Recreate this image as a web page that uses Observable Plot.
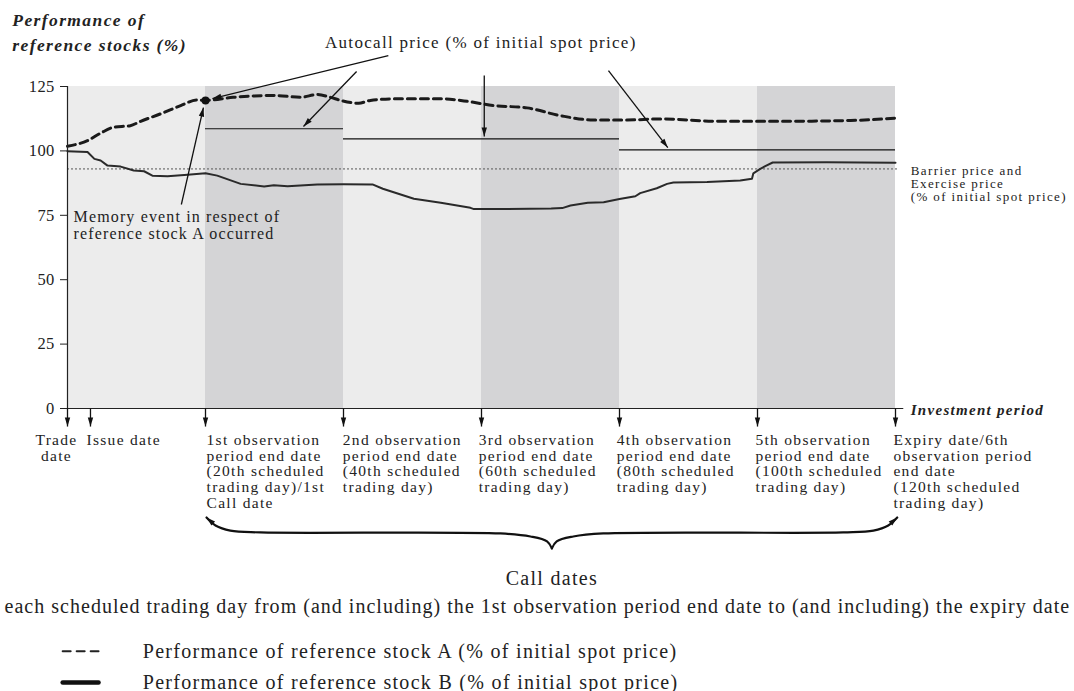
<!DOCTYPE html>
<html><head><meta charset="utf-8">
<script src="https://cdn.jsdelivr.net/npm/d3@7"></script>
<script src="https://cdn.jsdelivr.net/npm/@observablehq/plot@0.6"></script>
<style>
body{margin:0;background:#fff;}
svg{font-family:"Liberation Serif",serif;}
svg text{letter-spacing:0.3px;}
svg text[aria-label="title"]{letter-spacing:1.4px;}
svg text[aria-label="autocall-label"]{letter-spacing:1.3px;}
svg text[aria-label="memory-label"]{letter-spacing:1.15px;}
svg text[aria-label="barrier-label"]{letter-spacing:1.4px;}
svg text[aria-label="period-label"]{letter-spacing:1.3px;}
svg text[aria-label="date-labels"]{letter-spacing:1.3px;}
svg text[aria-label="bottom-text"]{letter-spacing:1.3px;}
svg text[aria-label="note-text"]{letter-spacing:1.02px;}
</style>
</head><body><div id="chart"></div>
<script>
// ---- data (x = scheduled trading day, y = % of initial spot price) ----
const periodStarts = [20, 60, 100];
const periodEnds = [40, 80, 120];
const yTicks = [0, 25, 50, 75, 100, 125];

const stockADays = [0,2.9,4.8,6.7,9.1,10.6,13.5,16.4,18.8,20,24,30,33.8,36.2,38.1,39.6,42.2,43.9,47.3,54.5,57,61.8,66.6,71.4,76.2,81.1,85.9,94.6,103.9,113.5,120];
const stockAValues = [101.8,104,106.9,109.2,109.8,111.5,114.4,117.6,119.8,119.6,120.8,121.5,120.8,121.9,120.8,119.6,118.5,119.6,120.2,120.2,119.6,117.6,116.7,113.7,112,112,112.4,111.5,111.5,111.8,112.7];

const stockBDays = [0,2.9,3.9,4.8,5.8,7.7,9.6,11.1,12.3,14.5,17.4,20,21.7,25.1,28.5,29.9,31.9,36.2,40,44.2,45.7,50.2,54.1,58.4,58.9,62,70.1,71.7,72.9,75.4,77.7,80,82.3,83,85.4,86.9,87.8,92.7,97.5,99.2,99.4,100.4,101.2,102.2,110,120];
const stockBValues = [99.9,99.6,96.9,96.3,94.3,93.9,92.4,92.1,90.4,90.2,90.7,91.3,90.4,87.2,86.2,86.7,86.3,87,87.1,87,85.3,81.4,79.9,77.9,77.4,77.4,77.6,77.8,78.8,79.9,80.1,81.3,82.4,83.6,85.5,87.2,87.7,87.9,88.5,89.2,91.3,93,94.2,95.5,95.6,95.4];

const autocallStart = [20, 40, 80];
const autocallEnd = [40, 80, 120];
const autocallLevel = [108.6, 104.7, 100.4];
const barrierLevel = 93;
const memoryDay = 20, memoryValue = 119.6;

const dateDays = [0, 3.33, 20, 40, 60, 80, 100, 120];
const dateLabelDays = [2.75, 20.15, 39.9, 59.6, 79.6, 99.7, 119.7];
const dateLabels = [
  "Issue date",
  "1st observation\nperiod end date\n(20th scheduled\ntrading day)/1st\nCall date",
  "2nd observation\nperiod end date\n(40th scheduled\ntrading day)",
  "3rd observation\nperiod end date\n(60th scheduled\ntrading day)",
  "4th observation\nperiod end date\n(80th scheduled\ntrading day)",
  "5th observation\nperiod end date\n(100th scheduled\ntrading day)",
  "Expiry date/6th\nobservation period\nend date\n(120th scheduled\ntrading day)"
];
const tradeDateLabel = "Trade\ndate";

const titleLines = ["Performance of", "reference stocks (%)"];
const autocallLabel = "Autocall price (% of initial spot price)";
const memoryLines = ["Memory event in respect of", "reference stock A occurred"];
const barrierLines = ["Barrier price and", "Exercise price", "(% of initial spot price)"];
const periodLabel = "Investment period";
const braceLabel = "Call dates";
const braceNote = "each scheduled trading day from (and including) the 1st observation period end date to (and including) the expiry date";
const legendLabels = ["Performance of reference stock A (% of initial spot price)", "Performance of reference stock B (% of initial spot price)"];

// annotation arrows (from -> to, in data units)
const arrowFromX = [46.5, 41.9, 60.4, 78.4, 16.5];
const arrowFromY = [137.0, 130.8, 129.3, 131.2, 79.2];
const arrowToX = [21.0, 34.2, 60.4, 87.0, 19.7];
const arrowToY = [120.3, 109.5, 105.6, 101.3, 116.8];

// curly brace (call dates), left half; right half mirrored about braceMid
const braceMid = 70.2;
const braceDays = [20.15, 21.45, 23.6, 27.97, 62.75, 67.1, 69.5, 70.2];
const braceValues = [-42.3, -45.4, -47.4, -48.1, -48.5, -49.7, -51.6, -54.3];

const W = 1074, H = 691, ML = 67, MR = 179, MT = 86, MB = 283;
const kx = (W - ML - MR) / 120, ky = (H - MT - MB) / 125;
const angle = (x1, y1, x2, y2) => Math.atan2((x2 - x1) * kx, (y2 - y1) * ky) * 180 / Math.PI;

const head = {draw(ctx) { ctx.moveTo(0, 0); ctx.lineTo(-2.7, 9); ctx.lineTo(2.7, 9); ctx.closePath(); }};
const tag = name => () => name;

const A = stockADays.map((d, i) => ({x: d, y: stockAValues[i]}));
const B = stockBDays.map((d, i) => ({x: d, y: stockBValues[i]}));
const bands = periodStarts.map((s, i) => ({x1: s, x2: periodEnds[i]}));
const autocall = autocallStart.map((s, i) => ({x1: s, x2: autocallEnd[i], y: autocallLevel[i]}));
const arrows = arrowFromX.map((x, i) => ({x1: x, y1: arrowFromY[i], x2: arrowToX[i], y2: arrowToY[i], r: angle(x, arrowFromY[i], arrowToX[i], arrowToY[i])}));
const dateArrowTip = -7;
const dateArrows = dateDays.map(d => ({x: d, y1: 0, y2: dateArrowTip, r: 180}));
const brace = [
  ...braceDays.map((d, i) => ({x: d, y: braceValues[i], s: "L"})),
  ...braceDays.map((d, i) => ({x: 2 * braceMid - d, y: braceValues[i], s: "R"}))
];
const braceHeads = [
  {x: braceDays[0], y: braceValues[0], r: angle(braceDays[1], braceValues[1], braceDays[0], braceValues[0])},
  {x: 2 * braceMid - braceDays[0], y: braceValues[0], r: angle(2 * braceMid - braceDays[1], braceValues[1], 2 * braceMid - braceDays[0], braceValues[0])}
];
const dateLabelData = dateLabels.map((t, i) => ({x: dateLabelDays[i], t}));

const chart = Plot.plot({
  width: W, height: H,
  marginLeft: ML, marginRight: MR, marginTop: MT, marginBottom: MB,
  style: {fontFamily: "'Liberation Serif', serif", fontSize: "16.5px", color: "#222", background: "#fff", overflow: "visible"},
  x: {domain: [0, 120], axis: null},
  y: {domain: [0, 125], ticks: yTicks, tickSize: 7, tickPadding: 6, label: null},
  marks: [
    Plot.rect([{}], {x1: 0, x2: 120, y1: 0, y2: 125, fill: "#ececec"}),
    Plot.rect(bands, {x1: "x1", x2: "x2", y1: 0, y2: 125, fill: "#d4d4d6"}),
    Plot.ruleY([barrierLevel], {x1: 0, x2: 120.5, stroke: "#555", strokeWidth: 1, strokeDasharray: "2,2"}),
    Plot.ruleY(autocall, {x1: "x1", x2: "x2", y: "y", stroke: "#111", strokeWidth: 1.2}),
    Plot.line(B, {x: "x", y: "y", stroke: "#2a2a2a", strokeWidth: 2}),
    Plot.line(A, {x: "x", y: "y", stroke: "#1a1a1a", strokeWidth: 3, strokeDasharray: "8,5", curve: "monotone-x"}),
    Plot.dot([{x: memoryDay, y: memoryValue}], {x: "x", y: "y", r: 4, fill: "#111"}),
    Plot.ruleX([0], {y1: 0, y2: 125, stroke: "#222", strokeWidth: 1.2}),
    Plot.ruleY([0], {x1: 0, x2: 121.2, stroke: "#222", strokeWidth: 1.2}),
    // arrows
    Plot.link(arrows, {x1: "x1", y1: "y1", x2: "x2", y2: "y2", stroke: "#111", strokeWidth: 1.3}),
    Plot.dot(arrows, {x: "x2", y: "y2", rotate: "r", symbol: head, fill: "#111", stroke: "none"}),
    Plot.link(dateArrows, {x1: "x", x2: "x", y1: "y1", y2: "y2", stroke: "#111", strokeWidth: 1.3}),
    Plot.dot(dateArrows, {x: "x", y: "y2", rotate: "r", symbol: head, fill: "#111", stroke: "none"}),
    // brace
    Plot.line(brace, {x: "x", y: "y", z: "s", curve: "catmull-rom", stroke: "#111", strokeWidth: 2.2}),
    Plot.dot(braceHeads, {x: "x", y: "y", rotate: "r", symbol: head, fill: "#111", stroke: "none"}),
    // texts
    Plot.text(titleLines, {x: -8, y: (d, i) => [148.4, 138.7][i], text: d => d, textAnchor: "start", lineAnchor: "bottom", fontWeight: "bold", fontStyle: "italic", fontSize: 17.5, ariaLabel: tag("title")}),
    Plot.text([autocallLabel], {x: 59.9, y: 139.8, text: d => d, textAnchor: "middle", lineAnchor: "bottom", fontSize: 17, ariaLabel: tag("autocall-label")}),
    Plot.text(memoryLines, {x: 0.87, y: (d, i) => [72.3, 65.9][i], text: d => d, textAnchor: "start", lineAnchor: "bottom", fontSize: 16, ariaLabel: tag("memory-label")}),
    Plot.text(barrierLines, {x: 122.2, y: (d, i) => [90.8, 85.7, 80.6][i], text: d => d, textAnchor: "start", lineAnchor: "bottom", fontSize: 13, ariaLabel: tag("barrier-label")}),
    Plot.text([periodLabel], {x: 122.2, y: -2.7, text: d => d, textAnchor: "start", lineAnchor: "bottom", fontWeight: "bold", fontStyle: "italic", fontSize: 15, ariaLabel: tag("period-label")}),
    Plot.text(dateLabelData, {x: "x", y: -9.8, text: "t", textAnchor: "start", lineAnchor: "top", lineHeight: 1.013, fontSize: 15.5, ariaLabel: tag("date-labels")}),
    Plot.text([tradeDateLabel], {x: -1.6, y: -9.8, text: d => d, textAnchor: "middle", lineAnchor: "top", lineHeight: 1.013, fontSize: 15.5, ariaLabel: tag("date-labels")}),
    Plot.text([braceLabel], {x: braceMid, y: -68.7, text: d => d, textAnchor: "middle", lineAnchor: "bottom", fontSize: 20, ariaLabel: tag("bottom-text")}),
    Plot.text([braceNote], {x: 68.1, y: -79.2, text: d => d, textAnchor: "middle", lineAnchor: "bottom", fontSize: 20, ariaLabel: tag("note-text")}),
    // legend
    Plot.line([{x: -0.7, y: -94.2}, {x: 4.5, y: -94.2}], {x: "x", y: "y", stroke: "#222", strokeWidth: 2, strokeDasharray: "8,6"}),
    Plot.line([{x: -0.7, y: -106.4}, {x: 4.5, y: -106.4}], {x: "x", y: "y", stroke: "#111", strokeWidth: 4.5}),
    Plot.text(legendLabels, {x: 10.9, y: (d, i) => [-96.7, -108.9][i], text: d => d, textAnchor: "start", lineAnchor: "bottom", fontSize: 20, ariaLabel: tag("bottom-text")})
  ]
});
document.getElementById("chart").appendChild(chart);
</script></body></html>
